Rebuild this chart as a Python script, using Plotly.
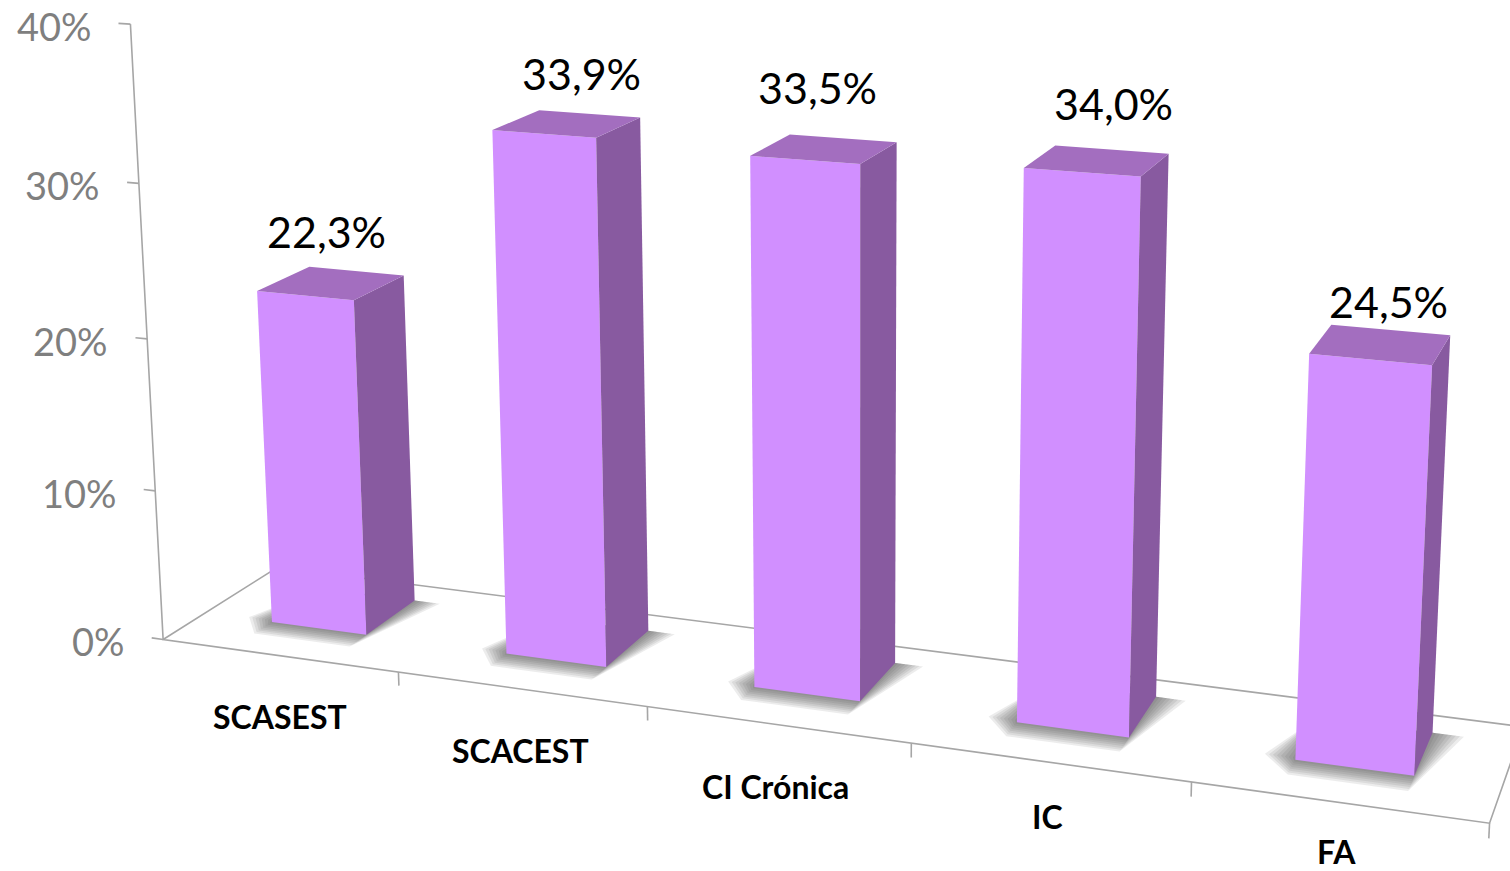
import numpy as np
import plotly.graph_objects as go

categories = ["SCASEST", "SCACEST", "CI Crónica", "IC", "FA"]
values = [22.3, 33.9, 33.5, 34.0, 24.5]
axis_ticks = [0, 10, 20, 30, 40]

W, H = 1510, 871
# Perspective view of the chart's box (category, depth, percent) onto the page
VIEW = np.array([
    [1.12176, 0.13339, -0.03858, 0.16313],
    [0.07065, -0.03339, -0.61644, 0.63948],
    [-0.13740, 0.06849, -0.04504, 1.00000],
])
BAR_HALF, DEPTH_FRONT, DEPTH_BACK = 0.2048, 0.3517, 0.8132
LABEL_DX = [-3, 16, -7, 16, 6]
LABEL_DY = [-3, 1, -9, -3, 11]
CAT_DX = [-2, -2, -2, -1, 1]
CAT_DY = [2, 1, 0, -10, -17]


def proj(pts):
    q = np.c_[np.asarray(pts, float) / np.array([5.0, 1.0, 40.0]), np.ones(len(pts))]
    h = q @ VIEW.T
    return h[:, :2] / h[:, 2:] * 1000


fig = go.Figure()


def poly(pts, fill, op=1.0):
    xy = proj(pts)
    fig.add_trace(go.Scatter(x=np.r_[xy[:, 0], xy[0, 0]], y=np.r_[xy[:, 1], xy[0, 1]], mode="lines",
                             fill="toself", fillcolor=fill, line=dict(width=0), opacity=op,
                             hoverinfo="skip", showlegend=False))


def line(pts, col="#a6a6a6", w=1.6):
    xy = proj(pts)
    fig.add_trace(go.Scatter(x=xy[:, 0], y=xy[:, 1], mode="lines", line=dict(color=col, width=w),
                             hoverinfo="skip", showlegend=False))


line([(0, 0, 40), (0, 0, 0), (5, 0, 0), (5, 1, 0), (0, 1, 0), (0, 0, 0)])
for z in axis_ticks:
    line([(-0.05, 0, z), (0, 0, z)])
for t in range(1, 6):
    line([(t, 0, -0.9), (t, 0, 0)])

y0, y1, wx = DEPTH_FRONT, DEPTH_BACK, BAR_HALF
for i, v in enumerate(values):
    c = i + 0.5
    for e in [0.11, 0.096, 0.082, 0.068, 0.054, 0.04, 0.026, 0.012]:
        ey = e * 1.4
        poly([(c - wx - e, y0 + 0.02, 0), (c - wx, y0 - ey, 0), (c + wx, y0 - ey, 0),
              (c + wx + e, y1, 0), (c + wx, y1, 0), (c - wx, y1, 0)], "#404040", 0.1)
    poly([(c - wx, y0, 0), (c + wx, y0, 0), (c + wx, y0, v), (c - wx, y0, v)], "#D18FFF")
    poly([(c + wx, y0, 0), (c + wx, y1, 0), (c + wx, y1, v), (c + wx, y0, v)], "#885AA0")
    poly([(c - wx, y0, v), (c + wx, y0, v), (c + wx, y1, v), (c - wx, y1, v)], "#A36EBF")

anns = []
for z in axis_ticks:
    xy = proj([(-0.05, 0, z)])[0]
    anns.append(dict(x=xy[0], y=xy[1], xref="x", yref="y", text=f"{z}%", showarrow=False,
                     xanchor="right", yanchor="middle", xshift=-25, yshift=-3,
                     font=dict(family="Lato", size=38, color="#7f7f7f")))
for i, v in enumerate(values):
    xy = proj([(i + 0.5, (y0 + y1) / 2, v + 3.2)])[0]
    anns.append(dict(x=xy[0], y=xy[1], xref="x", yref="y", text=f"{v:.1f}%".replace(".", ","),
                     showarrow=False, xshift=LABEL_DX[i], yshift=-LABEL_DY[i],
                     font=dict(family="Lato", size=43, color="black")))
    xy = proj([(i + 0.5, 0, -4)])[0]
    anns.append(dict(x=xy[0], y=xy[1], xref="x", yref="y", text=f"<b>{categories[i]}</b>",
                     showarrow=False, xshift=CAT_DX[i], yshift=-CAT_DY[i],
                     font=dict(family="Lato", size=32, color="black")))

fig.update_layout(width=W, height=H, margin=dict(l=0, r=0, t=0, b=0), paper_bgcolor="white",
                  plot_bgcolor="white", annotations=anns,
                  xaxis=dict(visible=False, range=[0, W]), yaxis=dict(visible=False, range=[H, 0]))
fig.write_html("out.html", config=dict(displayModeBar=False),
               post_script="document.body.style.margin='0';")
